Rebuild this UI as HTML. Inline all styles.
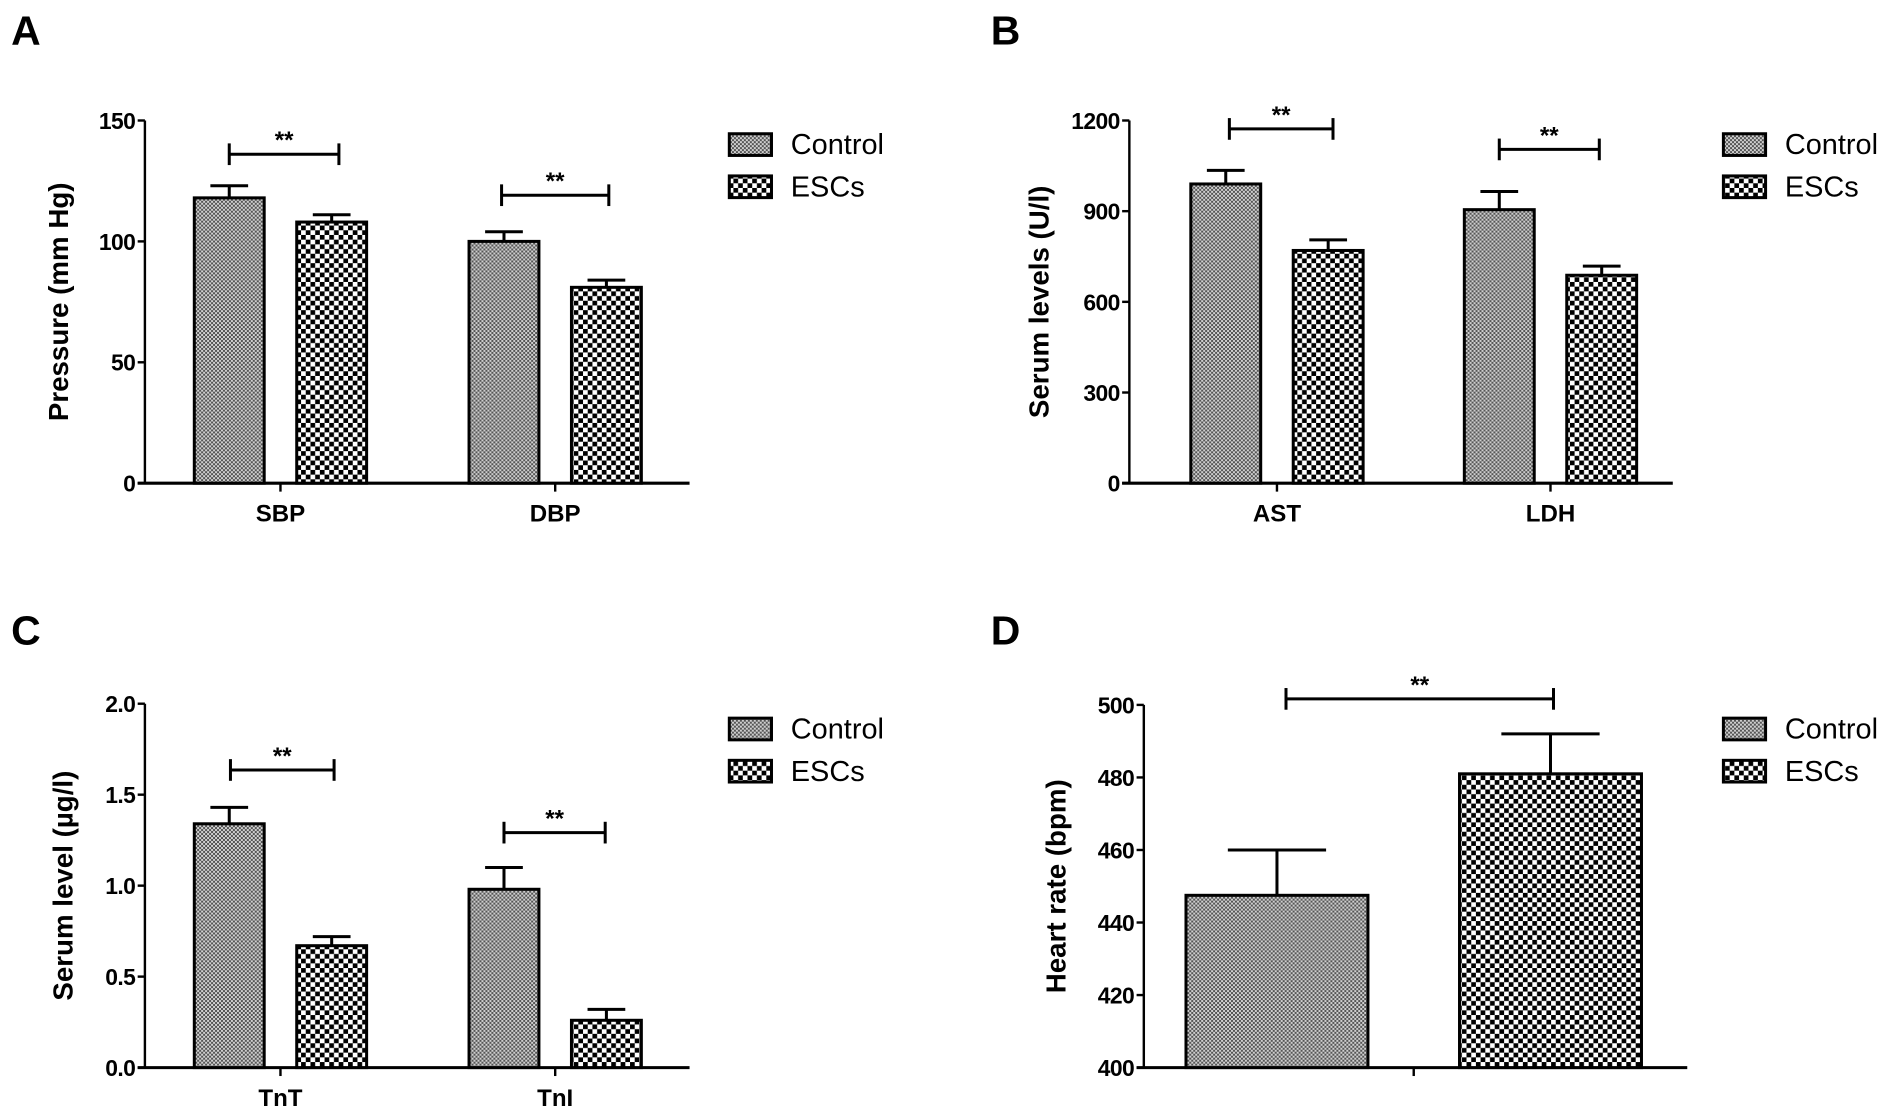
<!DOCTYPE html>
<html><head><meta charset="utf-8"><style>
html,body{margin:0;padding:0;background:#fff;}
svg{display:block;font-family:"Liberation Sans",sans-serif;}
</style></head><body>
<svg id="fig" width="1890" height="1117" viewBox="0 0 1568 927" xmlns="http://www.w3.org/2000/svg">
<defs>
<pattern id="pCtrl" patternUnits="userSpaceOnUse" width="3.3" height="3.3">
<rect width="3.3" height="3.3" fill="#cfcfcf"/><rect width="1.65" height="1.65" fill="#555"/><rect x="1.65" y="1.65" width="1.65" height="1.65" fill="#555"/>
</pattern>
<pattern id="pEsc" patternUnits="userSpaceOnUse" width="7.8" height="7.8">
<rect width="7.8" height="7.8" fill="#fff"/><rect width="3.9" height="3.9" fill="#000"/><rect x="3.9" y="3.9" width="3.9" height="3.9" fill="#000"/>
</pattern>
</defs>
</svg>
<script>
// Panel A
const catsA=["SBP","DBP"];
const ctrlA=[118,100]; const ctrlErrA=[5,4];
const escA=[108,81]; const escErrA=[3,3];
const ticksA=[0,50,100,150];
// Panel B
const catsB=["AST","LDH"];
const ctrlB=[990,905]; const ctrlErrB=[45,60];
const escB=[770,688]; const escErrB=[35,30];
const ticksB=[0,300,600,900,1200];
// Panel C
const catsC=["TnT","TnI"];
const ctrlC=[1.34,0.98]; const ctrlErrC=[0.09,0.12];
const escC=[0.67,0.26]; const escErrC=[0.05,0.06];
const ticksC=["0.0","0.5","1.0","1.5","2.0"];
// Panel D
const ctrlD=[447.5]; const ctrlErrD=[12.5];
const escD=[481]; const escErrD=[11];
const ticksD=[400,420,440,460,480,500];

const NS="http://www.w3.org/2000/svg";
const svg=document.getElementById('fig');
function mk(tag,attrs,parent,text){const e=document.createElementNS(NS,tag);for(const k in attrs)e.setAttribute(k,attrs[k]);if(text!==undefined)e.textContent=text;(parent||svg).appendChild(e);return e;}

function panel(o){
  const g=mk('g',{});
  
  
  const yS=v=>o.y0-(v-o.min)/(o.max-o.min)*(o.y0-o.y1);
  const lab=mk('text',{x:o.lx,y:o.ly,'font-size':34,'font-weight':'bold'},g,o.id.toUpperCase());
  
  
  const ya=mk('line',{x1:o.ax,y1:o.y0,x2:o.ax,y2:o.y1,stroke:'#000','stroke-width':2},g);
  
  
  const xa=mk('line',{x1:o.ax-6,y1:o.y0,x2:o.xend,y2:o.y0,stroke:'#000','stroke-width':2.5},g);
  
  
  o.ticks.forEach(t=>{
    const v=parseFloat(t);const y=yS(v);
    mk('line',{x1:o.ax-6,y1:y,x2:o.ax,y2:y,stroke:'#000','stroke-width':2},g);
    const tl=mk('text',{x:o.ax-8,y:y+7,'font-size':19,'font-weight':'bold','text-anchor':'end','letter-spacing':'-0.5'},g,String(t));
    
    
  });
  const yt=mk('text',{x:0,y:0,'font-size':23,'font-weight':'bold','text-anchor':'middle',transform:`translate(${o.tx},${(o.y0+o.y1)/2}) rotate(-90)`},g,o.title);
  
  
  function bar(x,w,v,e,fill,name){
    const top=yS(v),et=yS(v+e),cx=x+w/2;
    mk('line',{x1:cx,y1:top,x2:cx,y2:et,stroke:'#000','stroke-width':2.5},g);
    mk('line',{x1:cx-w*0.27,y1:et,x2:cx+w*0.27,y2:et,stroke:'#000','stroke-width':2.5},g);
    const r=mk('rect',{x:x,y:top,width:w,height:o.y0-top,fill:fill,stroke:'#000','stroke-width':2.5},g);
    
    
  }
  o.cats.forEach((c,i)=>{
    bar(o.cx[i],o.bw,o.ctrl[i],o.ce[i],'url(#pCtrl)','bar-control-'+(c||'group').toLowerCase());
    bar(o.ex[i],o.bw,o.esc[i],o.ee[i],'url(#pEsc)','bar-escs-'+(c||'group').toLowerCase());
    const mid=(o.cx[i]+o.ex[i]+o.bw)/2;
    mk('line',{x1:mid,y1:o.y0,x2:mid,y2:o.y0+7,stroke:'#000','stroke-width':2},g);
    if(c){const cl=mk('text',{x:mid,y:o.y0+32,'font-size':20,'font-weight':'bold','text-anchor':'middle'},g,c);
      
      }
    const [b1,b2,by]=o.br[i];
    const sg=mk('g',{},g);
    
    
    mk('line',{x1:b1,y1:by,x2:b2,y2:by,stroke:'#000','stroke-width':2.5},sg);
    mk('line',{x1:b1,y1:by-9,x2:b1,y2:by+9,stroke:'#000','stroke-width':2.5},sg);
    mk('line',{x1:b2,y1:by-9,x2:b2,y2:by+9,stroke:'#000','stroke-width':2.5},sg);
    mk('text',{x:(b1+b2)/2,y:by-5,'font-size':20,'font-weight':'bold','text-anchor':'middle'},sg,'**');
  });
  [['Control','url(#pCtrl)',0],['ESCs','url(#pEsc)',35]].forEach(([t,f,dy])=>{
    const lg=mk('g',{},g);
    
    
    mk('rect',{x:o.legx,y:o.legy+dy,width:35,height:18,fill:f,stroke:'#000','stroke-width':2.5},lg);
    mk('text',{x:o.legx+51,y:o.legy+dy+17,'font-size':24},lg,t);
  });
}
panel({id:'a',lx:9,ly:37,ax:120,y0:401,y1:100,min:0,max:150,xend:572,ticks:ticksA,tx:56,title:'Pressure (mm Hg)',
  cats:catsA,ctrl:ctrlA,ce:ctrlErrA,esc:escA,ee:escErrA,cx:[161,389],ex:[246,474],bw:58,
  br:[[190,281,128],[416,505,162]],legx:605,legy:111});
panel({id:'b',lx:822,ly:37,ax:937,y0:401,y1:100,min:0,max:1200,xend:1388,ticks:ticksB,tx:870,title:'Serum levels (U/l)',
  cats:catsB,ctrl:ctrlB,ce:ctrlErrB,esc:escB,ee:escErrB,cx:[988,1215],ex:[1073,1300],bw:58,
  br:[[1020,1106,107],[1244,1327,124]],legx:1430,legy:111});
panel({id:'c',lx:9,ly:535,ax:120,y0:886,y1:584,min:0,max:2,xend:572,ticks:ticksC,tx:60,title:'Serum level (µg/l)',
  cats:catsC,ctrl:ctrlC,ce:ctrlErrC,esc:escC,ee:escErrC,cx:[161,389],ex:[246,474],bw:58,
  br:[[191,277,639],[418,502,691]],legx:605,legy:596});
panel({id:'d',lx:822,ly:535,ax:949,y0:886,y1:585,min:400,max:500,xend:1400,ticks:ticksD,tx:884,title:'Heart rate (bpm)',
  cats:[""],ctrl:ctrlD,ce:ctrlErrD,esc:escD,ee:escErrD,cx:[984],ex:[1211],bw:151,
  br:[[1067,1289,580]],legx:1430,legy:596});
</script>
</body></html>
